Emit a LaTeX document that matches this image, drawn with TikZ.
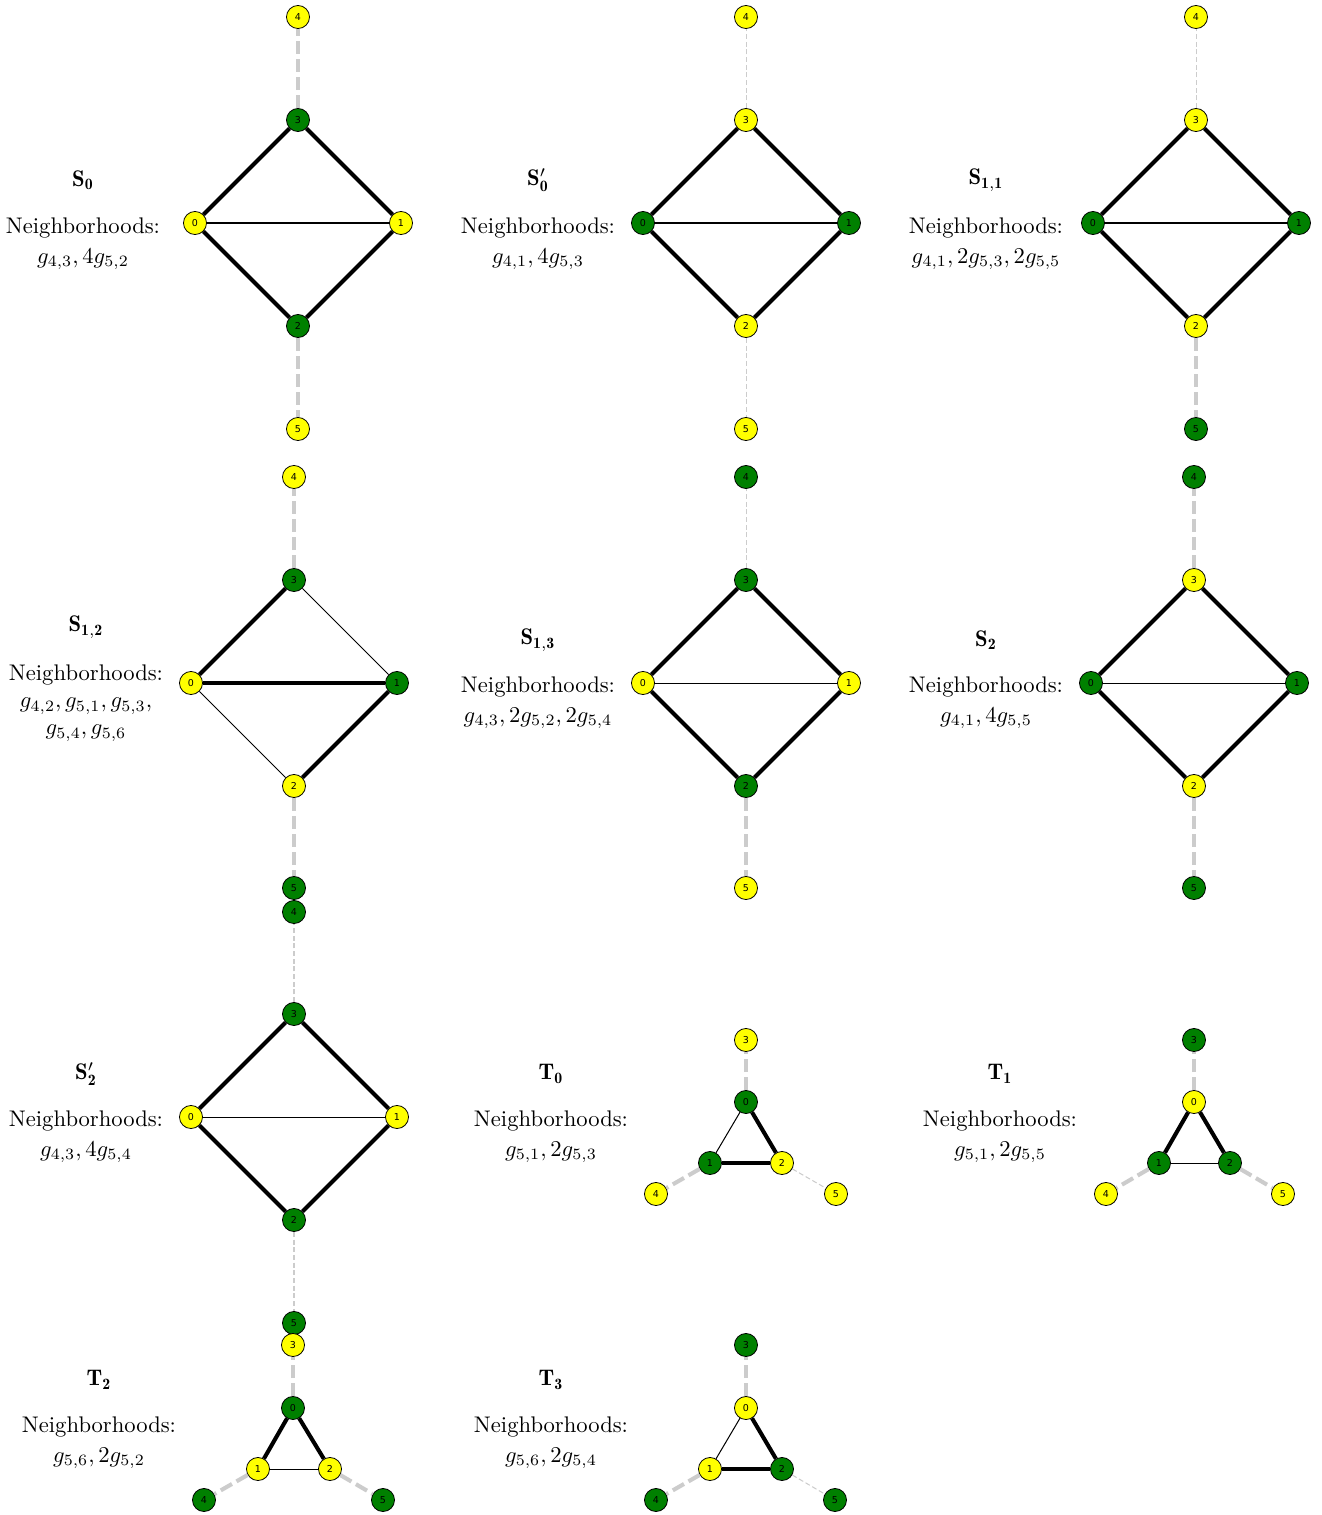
\documentclass[tikz,border=0pt]{standalone}
\usepackage{amssymb}
\usepackage{fontspec}
\usepackage{tikz}
\usetikzlibrary{arrows,automata,shapes}
\newfontfamily\dejavu{DejaVu Sans}
\tikzstyle{every state}=[minimum size=10.2pt,inner sep=0pt,draw=n,line width=.35pt,font=\dejavu\fontsize{4.2}{5}\selectfont]
\tikzstyle{hv}=[n,line width=1.8pt]
\tikzstyle{lt}=[n,line width=.45pt]
\tikzstyle{hd}=[l,line width=1.8pt,dash pattern=on 5.7pt off 2.3pt]
\tikzstyle{ld}=[l,line width=.45pt,dash pattern=on 2.2pt off 1.2pt]
\tikzstyle{ttl}=[inner sep=0pt]
\tikzstyle{nb}=[align=center,inner sep=0pt]
\definecolor{y}{rgb}{1,1,0}
\definecolor{g}{rgb}{0,.5,0}
\definecolor{n}{rgb}{0,0,0}
\definecolor{l}{rgb}{.8,.8,.8}
\definecolor{w}{rgb}{1,1,1}

\begin{document}
\begin{tikzpicture}[x=.4425pt,y=-.4425pt]
	\useasboundingbox[fill=w] (0,0) rectangle (1321,1515);
	% S_0
	\begin{scope}[shift={(298,223)}]
	\node[state,fill=y] (a0) at (-103,0) {0};
	\node[state,fill=y] (a1) at (103,0) {1};
	\node[state,fill=g] (a2) at (0,103) {2};
	\node[state,fill=g] (a3) at (0,-103) {3};
	\node[state,fill=y] (a4) at (0,-206) {4};
	\node[state,fill=y] (a5) at (0,206) {5};
	\path
		(a0) edge[hv] (a3)	(a3) edge[hv] (a1)
		(a0) edge[hv] (a2)	(a2) edge[hv] (a1)
		(a0) edge[lt] (a1)
		(a3) edge[hd] (a4)	(a2) edge[hd] (a5);
	\end{scope}
	\node[ttl] (at) at (83,180) {$\mathbf{S_0}$};
	\node[nb] (an) at (83,244) {Neighborhoods:\\[1pt]$g_{4,3}, 4g_{5,2}$};
	% S_0'
	\begin{scope}[shift={(746,223)}]
	\node[state,fill=g] (b0) at (-103,0) {0};
	\node[state,fill=g] (b1) at (103,0) {1};
	\node[state,fill=y] (b2) at (0,103) {2};
	\node[state,fill=y] (b3) at (0,-103) {3};
	\node[state,fill=y] (b4) at (0,-206) {4};
	\node[state,fill=y] (b5) at (0,206) {5};
	\path
		(b0) edge[hv] (b3)	(b3) edge[hv] (b1)
		(b0) edge[hv] (b2)	(b2) edge[hv] (b1)
		(b0) edge[lt] (b1)
		(b3) edge[ld] (b4)	(b2) edge[ld] (b5);
	\end{scope}
	\node[ttl] (bt) at (538,180) {$\mathbf{S'_0}$};
	\node[nb] (bn) at (538,244) {Neighborhoods:\\[1pt]$g_{4,1}, 4g_{5,3}$};
	% S_{1,1}
	\begin{scope}[shift={(1196,223)}]
	\node[state,fill=g] (c0) at (-103,0) {0};
	\node[state,fill=g] (c1) at (103,0) {1};
	\node[state,fill=y] (c2) at (0,103) {2};
	\node[state,fill=y] (c3) at (0,-103) {3};
	\node[state,fill=y] (c4) at (0,-206) {4};
	\node[state,fill=g] (c5) at (0,206) {5};
	\path
		(c0) edge[hv] (c3)	(c3) edge[hv] (c1)
		(c0) edge[hv] (c2)	(c2) edge[hv] (c1)
		(c0) edge[lt] (c1)
		(c3) edge[ld] (c4)	(c2) edge[hd] (c5);
	\end{scope}
	\node[ttl] (ct) at (986,180) {$\mathbf{S_{1,1}}$};
	\node[nb] (cn) at (986,244) {Neighborhoods:\\[1pt]$g_{4,1}, 2g_{5,3}, 2g_{5,5}$};
	% S_{1,2}
	\begin{scope}[shift={(294,683)}]
	\node[state,fill=y] (d0) at (-103,0) {0};
	\node[state,fill=g] (d1) at (103,0) {1};
	\node[state,fill=y] (d2) at (0,103) {2};
	\node[state,fill=g] (d3) at (0,-103) {3};
	\node[state,fill=y] (d4) at (0,-206) {4};
	\node[state,fill=g] (d5) at (0,205) {5};
	\path
		(d0) edge[hv] (d3)	(d3) edge[lt] (d1)
		(d0) edge[lt] (d2)	(d2) edge[hv] (d1)
		(d0) edge[hv] (d1)
		(d3) edge[hd] (d4)	(d2) edge[hd] (d5);
	\end{scope}
	\node[ttl] (dt) at (86,627) {$\mathbf{S_{1,2}}$};
	\node[nb] (dn) at (86,703) {Neighborhoods:\\$g_{4,2}, g_{5,1}, g_{5,3},$\\$g_{5,4}, g_{5,6}$};
	% S_{1,3}
	\begin{scope}[shift={(746,683)}]
	\node[state,fill=y] (e0) at (-103,0) {0};
	\node[state,fill=y] (e1) at (103,0) {1};
	\node[state,fill=g] (e2) at (0,103) {2};
	\node[state,fill=g] (e3) at (0,-103) {3};
	\node[state,fill=g] (e4) at (0,-206) {4};
	\node[state,fill=y] (e5) at (0,205) {5};
	\path
		(e0) edge[hv] (e3)	(e3) edge[hv] (e1)
		(e0) edge[hv] (e2)	(e2) edge[hv] (e1)
		(e0) edge[lt] (e1)
		(e3) edge[ld] (e4)	(e2) edge[hd] (e5);
	\end{scope}
	\node[ttl] (et) at (538,640) {$\mathbf{S_{1,3}}$};
	\node[nb] (en) at (538,703) {Neighborhoods:\\[1pt]$g_{4,3}, 2g_{5,2}, 2g_{5,4}$};
	% S_2
	\begin{scope}[shift={(1194,683)}]
	\node[state,fill=g] (f0) at (-103,0) {0};
	\node[state,fill=g] (f1) at (103,0) {1};
	\node[state,fill=y] (f2) at (0,103) {2};
	\node[state,fill=y] (f3) at (0,-103) {3};
	\node[state,fill=g] (f4) at (0,-206) {4};
	\node[state,fill=g] (f5) at (0,205) {5};
	\path
		(f0) edge[hv] (f3)	(f3) edge[hv] (f1)
		(f0) edge[hv] (f2)	(f2) edge[hv] (f1)
		(f0) edge[lt] (f1)
		(f3) edge[hd] (f4)	(f2) edge[hd] (f5);
	\end{scope}
	\node[ttl] (ft) at (986,640) {$\mathbf{S_2}$};
	\node[nb] (fn) at (986,703) {Neighborhoods:\\[1pt]$g_{4,1}, 4g_{5,5}$};
	% S_2'
	\begin{scope}[shift={(294,1117)}]
	\node[state,fill=y] (h0) at (-103,0) {0};
	\node[state,fill=y] (h1) at (103,0) {1};
	\node[state,fill=g] (h2) at (0,103) {2};
	\node[state,fill=g] (h3) at (0,-103) {3};
	\node[state,fill=g] (h4) at (0,-205) {4};
	\node[state,fill=g] (h5) at (0,206) {5};
	\path
		(h0) edge[hv] (h3)	(h3) edge[hv] (h1)
		(h0) edge[hv] (h2)	(h2) edge[hv] (h1)
		(h0) edge[lt] (h1)
		(h3) edge[ld] (h4)	(h2) edge[ld] (h5);
	\end{scope}
	\node[ttl] (ht) at (86,1074) {$\mathbf{S'_2}$};
	\node[nb] (hn) at (86,1137) {Neighborhoods:\\[1pt]$g_{4,3}, 4g_{5,4}$};
	% T_0
	\begin{scope}[shift={(746,1102)}]
	\node[state,fill=g] (t0) at (0,0) {0};
	\node[state,fill=g] (t1) at (-36,61) {1};
	\node[state,fill=y] (t2) at (36,61) {2};
	\node[state,fill=y] (t3) at (0,-62) {3};
	\node[state,fill=y] (t4) at (-90,92) {4};
	\node[state,fill=y] (t5) at (90,92) {5};
	\path
		(t0) edge[lt] (t1)	(t0) edge[hv] (t2)	(t1) edge[hv] (t2)
		(t0) edge[hd] (t3)	(t1) edge[hd] (t4)	(t2) edge[ld] (t5);
	\end{scope}
	\node[ttl] (tt) at (551,1074) {$\mathbf{T_0}$};
	\node[nb] (tn) at (551,1137) {Neighborhoods:\\[1pt]$g_{5,1}, 2g_{5,3}$};
	% T_1
	\begin{scope}[shift={(1194,1102)}]
	\node[state,fill=y] (u0) at (0,0) {0};
	\node[state,fill=g] (u1) at (-35,61) {1};
	\node[state,fill=g] (u2) at (36,61) {2};
	\node[state,fill=g] (u3) at (0,-62) {3};
	\node[state,fill=y] (u4) at (-88,92) {4};
	\node[state,fill=y] (u5) at (89,92) {5};
	\path
		(u0) edge[hv] (u1)	(u0) edge[hv] (u2)	(u1) edge[lt] (u2)
		(u0) edge[hd] (u3)	(u1) edge[hd] (u4)	(u2) edge[hd] (u5);
	\end{scope}
	\node[ttl] (ut) at (1000,1074) {$\mathbf{T_1}$};
	\node[nb] (un) at (1000,1137) {Neighborhoods:\\[1pt]$g_{5,1}, 2g_{5,5}$};
	% T_2
	\begin{scope}[shift={(293,1408)}]
	\node[state,fill=g] (v0) at (0,0) {0};
	\node[state,fill=y] (v1) at (-35,61) {1};
	\node[state,fill=y] (v2) at (37,61) {2};
	\node[state,fill=y] (v3) at (0,-63) {3};
	\node[state,fill=g] (v4) at (-89,92) {4};
	\node[state,fill=g] (v5) at (90,92) {5};
	\path
		(v0) edge[hv] (v1)	(v0) edge[hv] (v2)	(v1) edge[lt] (v2)
		(v0) edge[hd] (v3)	(v1) edge[hd] (v4)	(v2) edge[hd] (v5);
	\end{scope}
	\node[ttl] (vt) at (99,1380) {$\mathbf{T_2}$};
	\node[nb] (vn) at (99,1443) {Neighborhoods:\\[1pt]$g_{5,6}, 2g_{5,2}$};
	% T_3
	\begin{scope}[shift={(746,1408)}]
	\node[state,fill=y] (w0) at (0,0) {0};
	\node[state,fill=y] (w1) at (-36,61) {1};
	\node[state,fill=g] (w2) at (36,61) {2};
	\node[state,fill=g] (w3) at (0,-63) {3};
	\node[state,fill=g] (w4) at (-90,92) {4};
	\node[state,fill=g] (w5) at (89,92) {5};
	\path
		(w0) edge[lt] (w1)	(w0) edge[hv] (w2)	(w1) edge[hv] (w2)
		(w0) edge[hd] (w3)	(w1) edge[hd] (w4)	(w2) edge[ld] (w5);
	\end{scope}
	\node[ttl] (wt) at (551,1380) {$\mathbf{T_3}$};
	\node[nb] (wn) at (551,1443) {Neighborhoods:\\[1pt]$g_{5,6}, 2g_{5,4}$};
\end{tikzpicture}
\end{document}
